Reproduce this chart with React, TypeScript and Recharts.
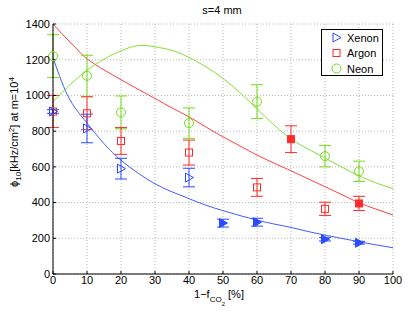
import {
	CartesianGrid,
	ComposedChart,
	ErrorBar,
	Label,
	Line,
	Scatter,
	XAxis,
	YAxis,
} from "recharts";

// measured points (x = 1 - f_CO2 in %)
const xenonX = [0, 10, 20, 40, 50, 60, 80, 90];
const xenonY = [910, 815, 590, 540, 285, 290, 195, 175];
const xenonErr = [10, 80, 58, 52, 22, 22, 10, 8];
const xenonFilled = [false, false, false, false, true, true, true, true];

const argonX = [0, 10, 20, 40, 60, 70, 80, 90];
const argonY = [910, 900, 745, 680, 485, 755, 365, 395];
const argonErr = [90, 92, 75, 70, 50, 75, 37, 40];
const argonFilled = [false, false, false, false, false, true, false, true];

const neonX = [0, 10, 20, 40, 60, 80, 90];
const neonY = [1220, 1110, 905, 845, 965, 660, 575];
const neonErr = [120, 115, 92, 85, 95, 60, 57];

// fitted curves
const fitX = [
	0, 2.5, 5, 7.5, 10, 15, 20, 25, 30, 35, 40, 45, 50, 55, 60, 65, 70, 75, 80, 85,
	90, 95, 100,
];
const xenonFit = [
	1210, 1080, 975, 905, 845, 730, 637, 565, 505, 460, 422, 385, 355, 327, 302,
	280, 261, 238, 218, 199, 181, 163, 147,
];
const argonFit = [
	1400, 1348, 1298, 1250, 1205, 1143, 1088, 1035, 983, 930, 880, 823, 768, 717,
	666, 621, 578, 533, 489, 444, 399, 363, 330,
];
const neonFit = [
	965, 1013, 1060, 1102, 1142, 1203, 1250, 1279, 1272, 1252, 1213, 1160, 1095,
	1015, 925, 835, 756, 700, 650, 598, 550, 510, 478,
];

const xTicks = [0, 10, 20, 30, 40, 50, 60, 70, 80, 90, 100];
const yTicks = [0, 200, 400, 600, 800, 1000, 1200, 1400];

const BLUE = "#2b4bff";
const RED = "#ff2a2a";
const GREEN = "#74dd1c";
const FONT = "'Liberation Sans', Arial, Helvetica, sans-serif";

const toPoints = (xs: number[], ys: number[], errs: number[], filled?: boolean[]) =>
	xs.map((x, i) => ({ x, y: ys[i], err: errs[i], filled: filled ? filled[i] : false }));

const toLine = (ys: number[]) => fitX.map((x, i) => ({ x, y: ys[i] }));

const xenonPts = toPoints(xenonX, xenonY, xenonErr, xenonFilled);
const argonPts = toPoints(argonX, argonY, argonErr, argonFilled);
const neonPts = toPoints(neonX, neonY, neonErr);

type Kind = "tri" | "sq" | "circ";

const drawMarker = (kind: Kind, color: string, cx: number, cy: number, filled: boolean) => {
	const fill = filled ? color : "none";
	if (kind === "tri") {
		return (
			<polygon
				points={`${cx - 3.5},${cy - 4.5} ${cx + 4.5},${cy} ${cx - 3.5},${cy + 4.5}`}
				fill={fill}
				stroke={color}
				strokeWidth={1}
			/>
		);
	}
	if (kind === "sq") {
		return (
			<rect x={cx - 3.5} y={cy - 3.5} width={7} height={7} fill={fill} stroke={color} strokeWidth={1} />
		);
	}
	return <circle cx={cx} cy={cy} r={4.5} fill={fill} stroke={color} strokeWidth={1} />;
};

const markerShape = (kind: Kind, color: string) => (props: any) => {
	const { cx, cy, payload } = props;
	if (cx == null || cy == null) return <g />;
	return drawMarker(kind, color, cx, cy, !!(payload && payload.filled));
};

const XLabel = ({ viewBox }: any) => {
	const cx = viewBox.x + viewBox.width / 2;
	const y = viewBox.y + 24;
	return (
		<text x={cx - 4} y={y} textAnchor="middle" fontSize={11} fontFamily={FONT} fill="#000">
			1−f
			<tspan dy={4} fontSize={8}>CO</tspan>
			<tspan dy={4} fontSize={6}>2</tspan>
			<tspan dy={-8}> [%]</tspan>
		</text>
	);
};

const YLabel = () => {
	const x = 18;
	const y = 132;
	return (
		<text
			x={x}
			y={y}
			transform={`rotate(-90, ${x}, ${y})`}
			textAnchor="middle"
			fontSize={11}
			fontFamily={FONT}
			fill="#000"
		>
			ϕ
			<tspan dy={3} fontSize={8}>10</tspan>
			<tspan dy={-3}>[kHz/cm</tspan>
			<tspan dy={-4} fontSize={8}>2</tspan>
			<tspan dy={4}>] at m=10</tspan>
			<tspan dy={-4} fontSize={8}>4</tspan>
		</text>
	);
};

const legendItems: { name: string; kind: Kind; color: string }[] = [
	{ name: "Xenon", kind: "tri", color: BLUE },
	{ name: "Argon", kind: "sq", color: RED },
	{ name: "Neon", kind: "circ", color: GREEN },
];

const tickStyle = { fill: "#000", fontSize: 11, fontFamily: FONT };

export default function App() {
	return (
		<div style={{ position: "absolute", left: 0, top: 0, width: 409, height: 314, background: "#fff" }}>
			<ComposedChart
				width={409}
				height={314}
				margin={{ top: 24, right: 16, bottom: 0, left: 0 }}
			>
				<CartesianGrid stroke="#b8b8b8" strokeDasharray="1 2" />
				<XAxis
					dataKey="x"
					type="number"
					domain={[0, 100]}
					ticks={xTicks}
					height={40}
					stroke="#000"
					tickSize={-3}
					tickMargin={5}
					tick={tickStyle}
				>
					<Label content={<XLabel />} />
				</XAxis>
				<XAxis
					xAxisId="top"
					orientation="top"
					type="number"
					domain={[0, 100]}
					ticks={xTicks}
					height={0}
					stroke="#000"
					tickSize={-3}
					tick={false}
				/>
				<YAxis
					dataKey="y"
					type="number"
					domain={[0, 1400]}
					ticks={yTicks}
					width={53}
					stroke="#000"
					tickSize={-3}
					tickMargin={6}
					tick={tickStyle}
				>
					<Label content={<YLabel />} />
				</YAxis>
				<YAxis
					yAxisId="right"
					orientation="right"
					type="number"
					domain={[0, 1400]}
					ticks={yTicks}
					width={0}
					stroke="#000"
					tickSize={-3}
					tick={false}
				/>
				<Line data={toLine(xenonFit)} dataKey="y" type="natural" stroke={BLUE} strokeWidth={0.9} dot={false} isAnimationActive={false} />
				<Line data={toLine(argonFit)} dataKey="y" type="natural" stroke={RED} strokeWidth={0.9} dot={false} isAnimationActive={false} />
				<Line data={toLine(neonFit)} dataKey="y" type="natural" stroke={GREEN} strokeWidth={0.9} dot={false} isAnimationActive={false} />
				<Scatter data={neonPts} dataKey="y" shape={markerShape("circ", GREEN)} isAnimationActive={false}>
					<ErrorBar dataKey="err" direction="y" width={6} stroke={GREEN} strokeWidth={1} isAnimationActive={false} />
				</Scatter>
				<Scatter data={argonPts} dataKey="y" shape={markerShape("sq", RED)} isAnimationActive={false}>
					<ErrorBar dataKey="err" direction="y" width={6} stroke={RED} strokeWidth={1} isAnimationActive={false} />
				</Scatter>
				<Scatter data={xenonPts} dataKey="y" shape={markerShape("tri", BLUE)} isAnimationActive={false}>
					<ErrorBar dataKey="err" direction="y" width={6} stroke={BLUE} strokeWidth={1} isAnimationActive={false} />
				</Scatter>
			</ComposedChart>
			<svg width={409} height={314} style={{ position: "absolute", left: 0, top: 0, pointerEvents: "none" }}>
				<text x={222} y={14} textAnchor="middle" fontSize={11} fontFamily={FONT} fill="#000">
					s=4 mm
				</text>
				<rect x={321.5} y={29.5} width={61} height={46} fill="#fff" stroke="#000" strokeWidth={1} />
				{legendItems.map((item, i) => (
					<g key={item.name}>
						{drawMarker(item.kind, item.color, 336.5, 37.5 + i * 15.5, false)}
						<text x={347} y={41.5 + i * 15.5} fontSize={11} fontFamily={FONT} fill="#000">
							{item.name}
						</text>
					</g>
				))}
			</svg>
		</div>
	);
}
